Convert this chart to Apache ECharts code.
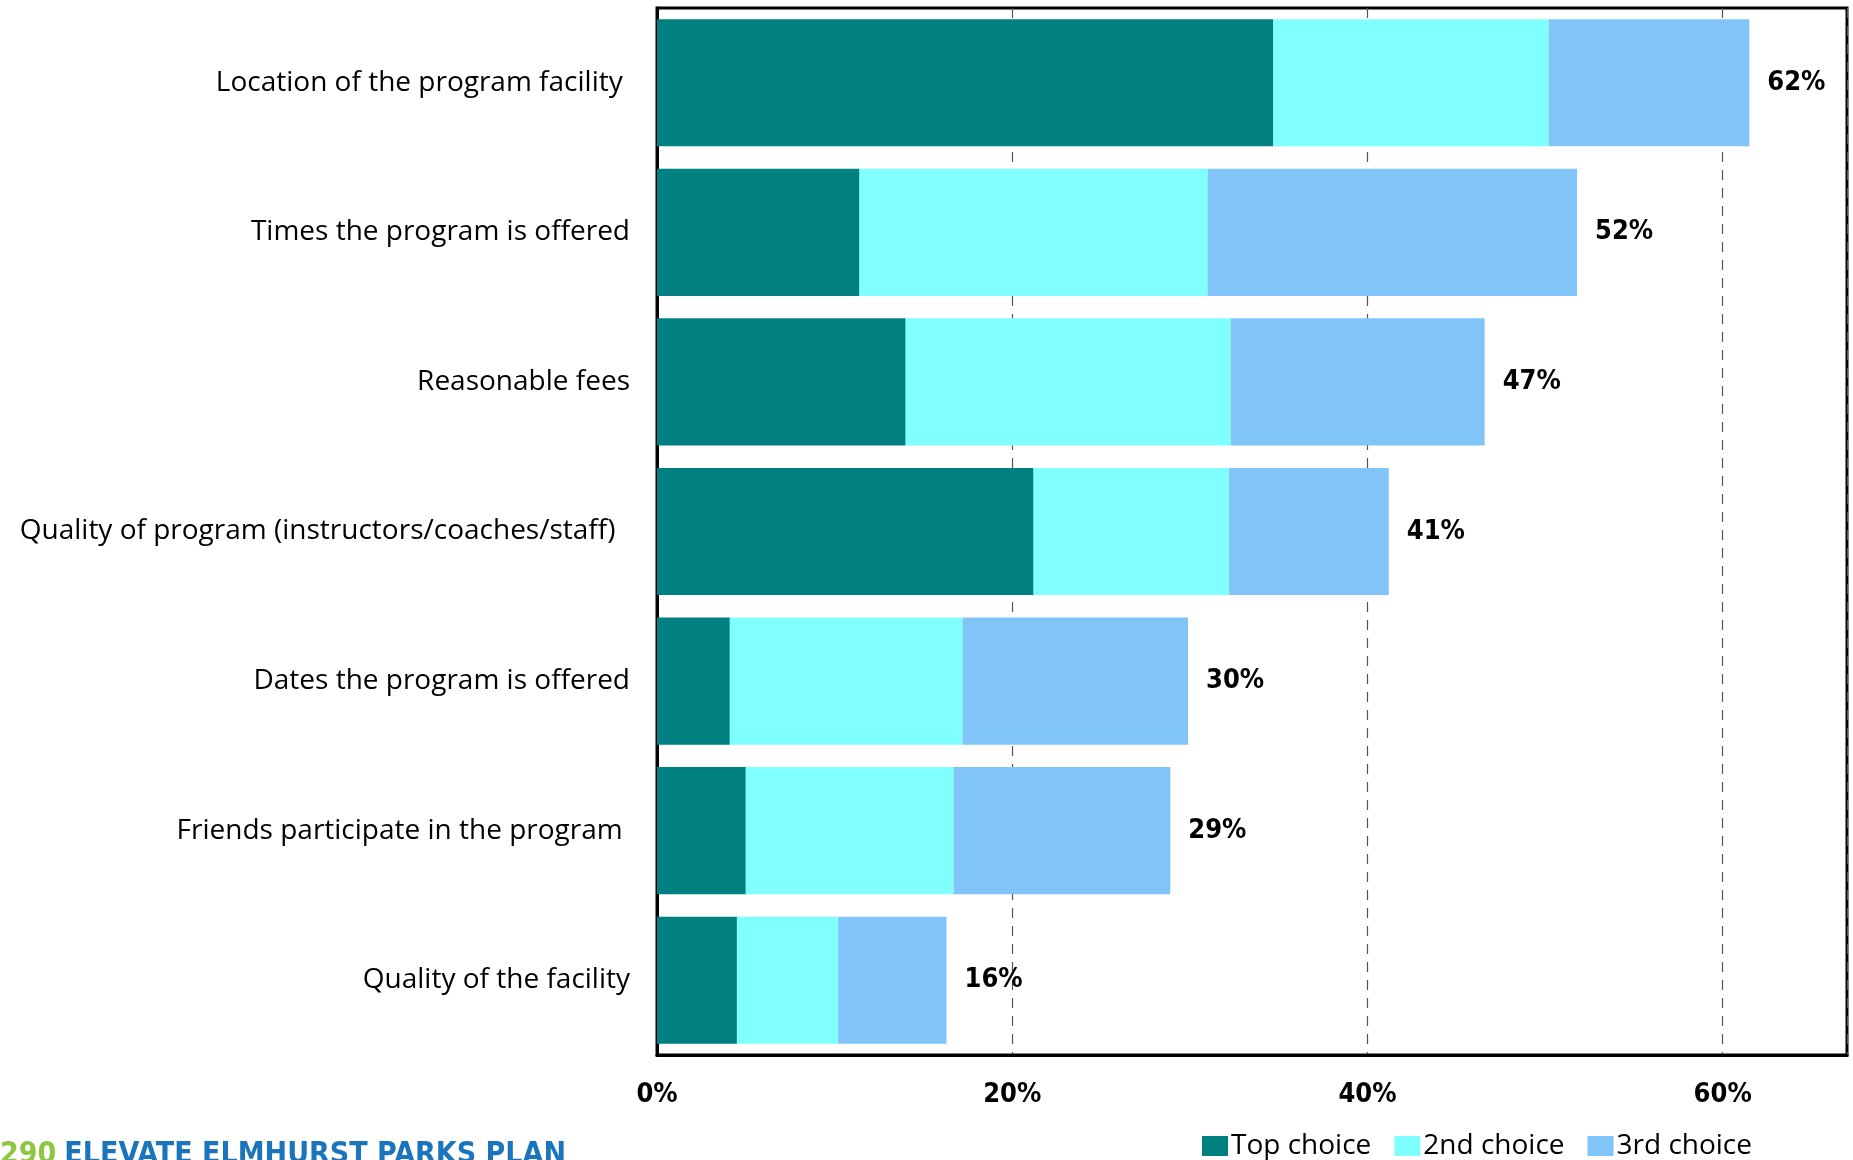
<!DOCTYPE html>
<html><head><meta charset="utf-8">
<script src="https://cdn.jsdelivr.net/npm/echarts@6/dist/echarts.min.js"></script>
<style>html,body{margin:0;padding:0;background:#fff}#c{width:1853px;height:1160px}</style>
</head><body><div id="c"></div>
<script>
const categories = [
  "Location of the program facility ",
  "Times the program is offered",
  "Reasonable fees",
  "Quality of program (instructors/coaches/staff)  ",
  "Dates the program is offered",
  "Friends participate in the program ",
  "Quality of the facility"
];
const topChoice = [34.7, 11.4, 14.0, 21.2, 4.1, 5.0, 4.5];
const secondChoice = [15.5, 19.6, 18.3, 11.0, 13.1, 11.7, 5.7];
const thirdChoice = [11.3, 20.8, 14.3, 9.0, 12.7, 12.2, 6.1];
const totals = [62, 52, 47, 41, 30, 29, 16];
const seriesNames = ["Top choice", "2nd choice", "3rd choice"];
const xTicks = [0, 20, 40, 60];

const chart = echarts.init(document.getElementById('c'));
const boldFont = '"Liberation Sans Narrow","DejaVu Sans Condensed","Open Sans",sans-serif';
const option = {
  animation: false,
  color: ['#008080', '#80FFFF', '#80C4F8'],
  grid: { left: 657, right: 6, top: 8, bottom: 105, show: true, borderColor: '#000', borderWidth: 3, containLabel: false },
  legend: {
    data: seriesNames, left: 1197, top: 1127, itemWidth: 26, itemHeight: 20, itemGap: 23,
    icon: 'rect',
    textStyle: { fontFamily: '"Open Sans",sans-serif', fontSize: 28, color: '#000', padding: [0,0,0,-2] }
  },
  xAxis: {
    type: 'value', min: 0, max: 67, interval: 20,
    axisLine: { show: true, lineStyle: { color: '#000', width: 3 } },
    axisTick: { show: false },
    axisLabel: { showMaxLabel: false, margin: 26, fontFamily: boldFont, fontWeight: 'bold', fontSize: 27, color: '#000',
      formatter: v => xTicks.indexOf(v) >= 0 ? v + '%' : '' },
    splitLine: { show: true, lineStyle: { color: '#555', type: [10, 8], width: 1.2 } }
  },
  yAxis: {
    type: 'category', data: categories, inverse: true,
    axisLine: { show: true, lineStyle: { color: '#000', width: 3 } },
    axisTick: { show: false },
    axisLabel: { margin: 27, fontFamily: '"Open Sans",sans-serif', fontSize: 28, color: '#000', padding: [4,0,0,0] }
  },
  series: [
    { name: seriesNames[0], type: 'bar', stack: 's', data: topChoice, barCategoryGap: '15%' },
    { name: seriesNames[1], type: 'bar', stack: 's', data: secondChoice },
    { name: seriesNames[2], type: 'bar', stack: 's', data: thirdChoice,
      label: { show: true, position: 'right', distance: 18, fontFamily: boldFont, fontWeight: 'bold', fontSize: 27, color: '#000',
        formatter: p => totals[p.dataIndex] + '%' } }
  ],
  graphic: [{
    type: 'text', left: 0, top: 1140,
    style: {
      text: '{g|290}{s| }{b|ELEVATE ELMHURST PARKS PLAN}',
      rich: {
        g: { fill: '#8DC63F', fontSize: 30, fontWeight: 'bold', fontFamily: boldFont },
        s: { width: 8, fontSize: 30 },
        b: { fill: '#1B75BC', fontSize: 30, fontWeight: 'bold', fontFamily: boldFont }
      }
    }
  }]
};
chart.setOption(option);
</script></body></html>
